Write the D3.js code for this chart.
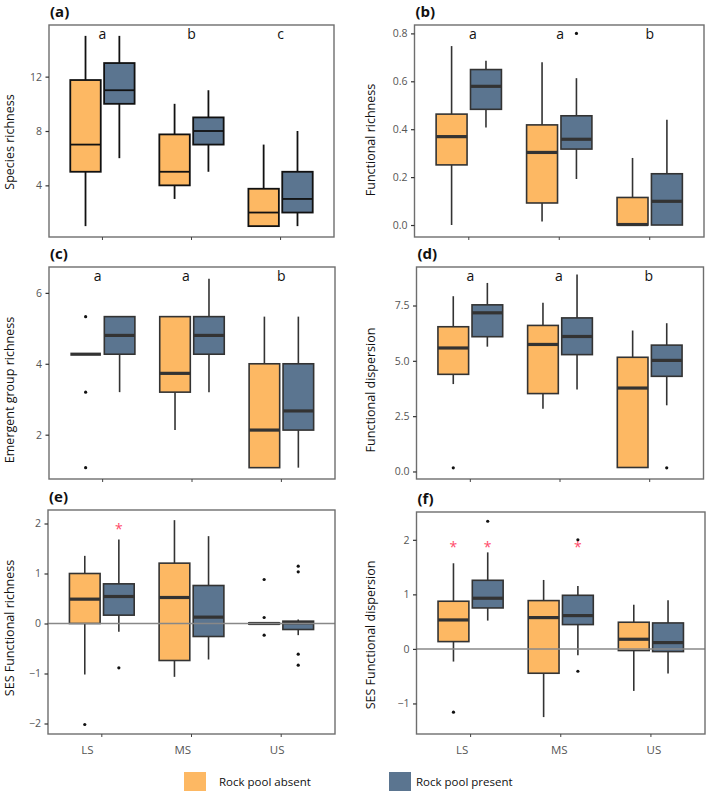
<!DOCTYPE html>
<html><head><meta charset="utf-8">
<script src="https://cdn.jsdelivr.net/npm/d3@7"></script>
<style>
html,body{margin:0;padding:0;background:#fff;}
svg{display:block;font-family:"Open Sans",sans-serif;}
</style></head>
<body><svg id="chart" width="707" height="791"></svg>
<script>
// ---------------- DATA ----------------
const groups = ["LS", "MS", "US"];
const treatments = ["Rock pool absent", "Rock pool present"];
// box statistics per box: [lower whisker, Q1, median, Q3, upper whisker]
// order: LS-absent, LS-present, MS-absent, MS-present, US-absent, US-present
const speciesRichness = [
  [1, 5, 7, 11.75, 15], [6, 10, 11, 13, 15],
  [3, 4, 5, 7.75, 10], [5, 7, 8, 9, 11],
  [1, 1, 2, 3.75, 7], [1, 2, 3, 5, 8]
];
const functionalRichness = [
  [0, 0.251, 0.369, 0.463, 0.747], [0.407, 0.483, 0.579, 0.649, 0.686],
  [0.015, 0.092, 0.303, 0.418, 0.679], [0.192, 0.317, 0.358, 0.456, 0.613],
  [0, 0, 0.002, 0.115, 0.28], [0, 0, 0.099, 0.214, 0.439]
];
const emergentGroupRichness = [
  [4.27, 4.27, 4.27, 4.27, 4.27], [3.2, 4.27, 4.8, 5.33, 5.33],
  [2.13, 3.2, 3.73, 5.33, 5.33], [3.2, 4.27, 4.8, 5.33, 6.4],
  [1.07, 1.07, 2.13, 4.0, 5.33], [1.07, 2.13, 2.67, 4.0, 5.33]
];
const functionalDispersion = [
  [3.95, 4.39, 5.58, 6.54, 7.92], [5.64, 6.09, 7.17, 7.53, 8.52],
  [2.84, 3.52, 5.74, 6.6, 7.62], [3.71, 5.28, 6.1, 6.94, 8.9],
  [0.18, 0.18, 3.77, 5.16, 6.37], [2.99, 4.3, 5.02, 5.71, 6.7]
];
const sesFunctionalRichness = [
  [-1.02, 0, 0.487, 1.0, 1.353], [-0.167, 0.167, 0.54, 0.793, 1.68],
  [-1.067, -0.74, 0.52, 1.207, 2.067], [-0.72, -0.26, 0.127, 0.76, 1.747],
  [-0.012, -0.012, 0, 0.012, 0.012], [-0.233, -0.12, 0.013, 0.047, 0.08]
];
const sesFunctionalDispersion = [
  [-0.232, 0.134, 0.531, 0.874, 1.57], [0.519, 0.751, 0.929, 1.258, 1.77],
  [-1.25, -0.446, 0.574, 0.886, 1.264], [-0.116, 0.446, 0.611, 0.983, 1.155],
  [-0.77, -0.03, 0.177, 0.489, 0.81], [-0.452, -0.049, 0.116, 0.476, 0.89]
];
// outliers: [group, treatment index, value]
const functionalRichnessOutliers = [["MS", 1, 0.8]];
const emergentGroupOutliers = [["LS", 0, 5.33], ["LS", 0, 3.2], ["LS", 0, 1.07]];
const functionalDispersionOutliers = [["LS", 0, 0.165], ["US", 1, 0.165]];
const sesFunctionalRichnessOutliers = [["LS", 0, -2.02], ["LS", 1, -0.887],
  ["US", 0, 0.88], ["US", 0, 0.12], ["US", 0, -0.233],
  ["US", 1, 1.147], ["US", 1, 1.033], ["US", 1, -0.613], ["US", 1, -0.833]];
const sesFunctionalDispersionOutliers = [["LS", 0, -1.16], ["LS", 1, 2.34], ["MS", 1, 2.0], ["MS", 1, -0.41]];
// significance letters per group
const lettersA = ["a", "b", "c"];
const lettersB = ["a", "a", "b"];
const lettersC = ["a", "a", "b"];
const lettersD = ["a", "a", "b"];
// red asterisks: [group, treatment index, value]
const sesFunctionalRichnessStars = [["LS", 1, 1.92]];
const sesFunctionalDispersionStars = [["LS", 0, 1.88], ["LS", 1, 1.88], ["MS", 1, 1.88]];
// tick values
const ticksA = [4, 8, 12];
const ticksB = [0, 0.2, 0.4, 0.6, 0.8];
const ticksC = [2, 4, 6];
const ticksD = [0, 2.5, 5, 7.5];
const ticksE = [-2, -1, 0, 1, 2];
const ticksF = [-1, 0, 1, 2];

// ---------------- STYLE ----------------
const fillColors = ["#fdb863", "#5b7590"];
const svg = d3.select("#chart");

const panels = [
  {tag: "(a)", title: "Species richness", data: speciesRichness, outliers: [], letters: lettersA, letterDx: [0, 0, 0],
   stars: [], ticks: ticksA, fmt: d3.format("d"), domain: [0.2, 15.8], box: [49, 25, 334, 237],
   titleX: 9, titleY: 142, heavy: true, zero: false, xlabels: false},
  {tag: "(b)", title: "Functional richness", data: functionalRichness, outliers: functionalRichnessOutliers, letters: lettersB, letterDx: [4, 1, 0],
   stars: [], ticks: ticksB, fmt: d3.format(".1f"), domain: [-0.05, 0.835], box: [414.5, 25, 704, 237],
   titleX: 370, titleY: 140, heavy: false, zero: false, xlabels: false},
  {tag: "(c)", title: "Emergent group richness", data: emergentGroupRichness, outliers: emergentGroupOutliers, letters: lettersC, letterDx: [-5, -6, 0],
   stars: [], ticks: ticksC, fmt: d3.format("d"), domain: [0.75, 6.73], box: [49, 267, 335, 479],
   titleX: 9, titleY: 390, heavy: false, zero: false, xlabels: false},
  {tag: "(d)", title: "Functional dispersion", data: functionalDispersion, outliers: functionalDispersionOutliers, letters: lettersD, letterDx: [0, -1, -1],
   stars: [], ticks: ticksD, fmt: d3.format(".1f"), domain: [-0.34, 9.24], box: [416.5, 267, 703.5, 479],
   titleX: 370, titleY: 390, heavy: false, zero: false, xlabels: false},
  {tag: "(e)", title: "SES Functional richness", data: sesFunctionalRichness, outliers: sesFunctionalRichnessOutliers, letters: null, letterDx: [0, 0, 0],
   stars: sesFunctionalRichnessStars, ticks: ticksE, fmt: d => d3.format("d")(d).replace("-", "\u2212"), domain: [-2.21, 2.27], box: [48, 510, 335, 734],
   titleX: 9, titleY: 628, heavy: false, zero: true, xlabels: true, labelDx: [-14.5, -8.7, -4]},
  {tag: "(f)", title: "SES Functional dispersion", data: sesFunctionalDispersion, outliers: sesFunctionalDispersionOutliers, letters: null, letterDx: [0, 0, 0],
   stars: sesFunctionalDispersionStars, ticks: ticksF, fmt: d3.format("d"), domain: [-1.56, 2.51], box: [416.5, 512, 705, 734],
   titleX: 370.5, titleY: 635, heavy: false, zero: true, xlabels: true, labelDx: [-8.5, -1.5, 3]}
];

panels.forEach(p => {
  const [L, T, R, B] = p.box;
  const g = svg.append("g");
  const x0 = d3.scaleBand().domain(groups).range([L, R]).paddingInner(0).paddingOuter(0.1);
  const step = x0.step();
  const x1 = d3.scaleBand().domain([0, 1]).range([0.12 * step, 0.88 * step]);
  const bw = x1.bandwidth() * 0.9;
  const y = d3.scaleLinear().domain(p.domain).range([B, T]);
  const cx = (grp, t) => x0(grp) + x1(t) + x1.bandwidth() / 2;

  const strokeC = p.heavy ? "#111" : "#333";
  const boxW = p.heavy ? 1.8 : 1.6;
  const medW = p.heavy ? 1.8 : 3.2;

  // boxes
  const items = p.data.map((s, i) => ({grp: groups[Math.floor(i / 2)], t: i % 2, s}));
  const bx = g.append("g").selectAll("g").data(items).join("g");
  bx.append("line").attr("x1", d => cx(d.grp, d.t)).attr("x2", d => cx(d.grp, d.t))
    .attr("y1", d => y(d.s[0])).attr("y2", d => y(d.s[1]))
    .attr("stroke", strokeC).attr("stroke-width", boxW);
  bx.append("line").attr("x1", d => cx(d.grp, d.t)).attr("x2", d => cx(d.grp, d.t))
    .attr("y1", d => y(d.s[3])).attr("y2", d => y(d.s[4]))
    .attr("stroke", strokeC).attr("stroke-width", boxW);
  bx.append("rect").attr("x", d => cx(d.grp, d.t) - bw / 2).attr("width", bw)
    .attr("y", d => y(d.s[3])).attr("height", d => Math.max(0, y(d.s[1]) - y(d.s[3])))
    .attr("fill", d => fillColors[d.t]).attr("stroke", strokeC).attr("stroke-width", boxW);
  bx.append("line").attr("x1", d => cx(d.grp, d.t) - bw / 2).attr("x2", d => cx(d.grp, d.t) + bw / 2)
    .attr("y1", d => y(d.s[2])).attr("y2", d => y(d.s[2]))
    .attr("stroke", strokeC).attr("stroke-width", medW);

  // outliers
  g.append("g").selectAll("circle").data(p.outliers).join("circle")
    .attr("cx", d => cx(d[0], d[1])).attr("cy", d => y(d[2])).attr("r", 1.6).attr("fill", "#111");

  // zero reference line
  if (p.zero) {
    g.append("line").attr("x1", L).attr("x2", R).attr("y1", y(0)).attr("y2", y(0))
      .attr("stroke", "#888").attr("stroke-width", 1.5);
  }

  // asterisks
  g.append("g").selectAll("text").data(p.stars).join("text")
    .attr("x", d => cx(d[0], d[1])).attr("y", d => y(d[2]) + 6)
    .attr("text-anchor", "middle").attr("font-size", 14).attr("fill", "#ff4a6a").text("*");

  // letters
  if (p.letters) {
    g.append("g").selectAll("text").data(p.letters).join("text")
      .attr("x", (d, i) => x0(groups[i]) + step / 2 + p.letterDx[i]).attr("y", T + 14)
      .attr("text-anchor", "middle").attr("font-size", 14).attr("fill", "#111").text(d => d);
  }

  // frame
  g.append("rect").attr("x", L).attr("y", T).attr("width", R - L).attr("height", B - T)
    .attr("fill", "none").attr("stroke", "#6e6e6e").attr("stroke-width", 1.4);

  // y axis
  const ax = g.append("g").attr("transform", `translate(${L},0)`)
    .call(d3.axisLeft(y).tickValues(p.ticks).tickFormat(p.fmt).tickSize(3.5).tickPadding(3.5));
  ax.select(".domain").remove();
  ax.selectAll(".tick line").attr("stroke", "#333").attr("stroke-width", 1.2);
  ax.selectAll(".tick text").attr("fill", "#555").attr("font-size", 10.5).attr("font-family", "Open Sans, sans-serif");

  // x ticks
  const xa = g.append("g").attr("transform", `translate(0,${B})`)
    .call(d3.axisBottom(x0).tickSize(3).tickFormat(""));
  xa.select(".domain").remove();
  xa.selectAll(".tick line").attr("stroke", "#444").attr("stroke-width", 1);
  if (p.xlabels) {
    g.append("g").selectAll("text").data(groups).join("text")
      .attr("x", (d, i) => x0(d) + step / 2 + p.labelDx[i]).attr("y", 754)
      .attr("text-anchor", "middle").attr("font-size", 11.5).attr("fill", "#555").text(d => d);
  }

  // titles
  g.append("text").attr("transform", `translate(${p.titleX},${p.titleY}) rotate(-90)`)
    .attr("text-anchor", "middle").attr("dominant-baseline", "central")
    .attr("font-size", 12.5).attr("fill", "#111").text(p.title);
  g.append("text").attr("x", L + 1).attr("y", T - 8).attr("font-size", 15).attr("font-weight", "bold")
    .attr("fill", "#111").text(p.tag);
});

// legend
const legendX = [184, 389];
const leg = svg.append("g").selectAll("g").data(treatments).join("g")
  .attr("transform", (d, i) => `translate(${legendX[i]},772)`);
leg.append("rect").attr("width", 22).attr("height", 24).attr("fill", (d, i) => fillColors[i]);
leg.append("text").attr("x", (d, i) => i === 0 ? 35 : 27).attr("y", 14)
  .attr("font-size", 11.5).attr("fill", "#111").text(d => d);
</script></body></html>
